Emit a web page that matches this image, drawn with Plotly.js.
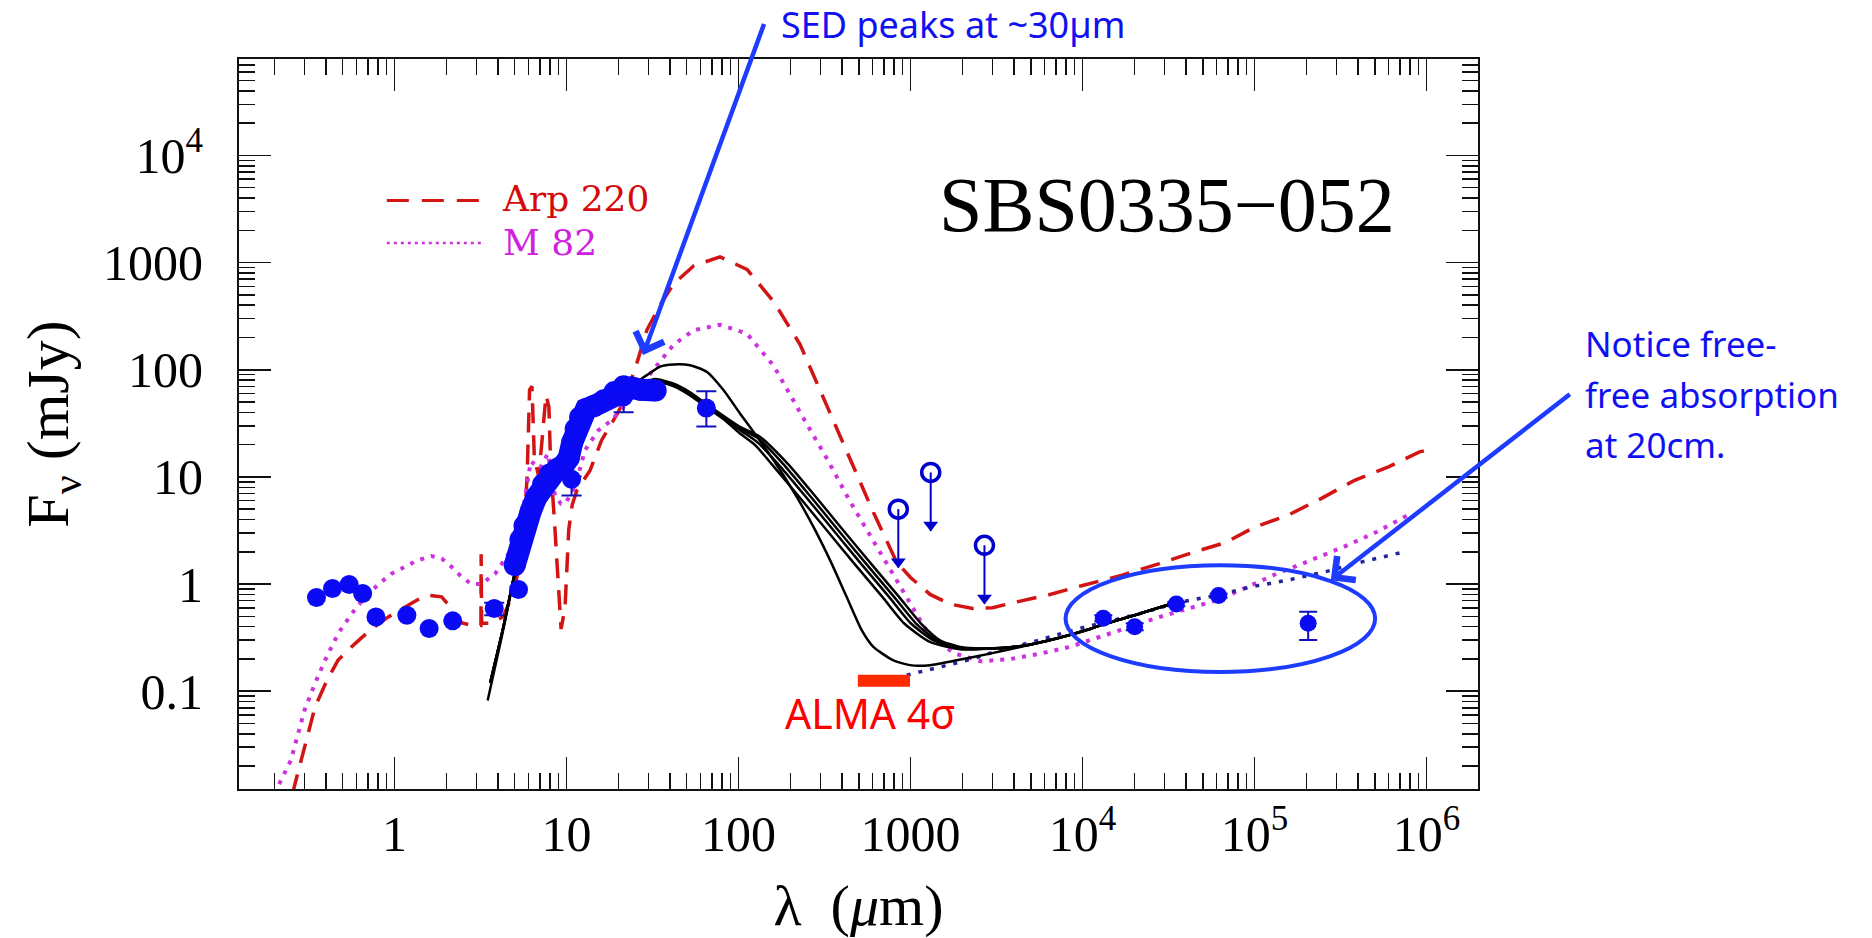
<!DOCTYPE html>
<html>
<head>
<meta charset="utf-8">
<script src="https://cdn.plot.ly/plotly-3.0.1.min.js"></script>
<style>
  html, body { margin: 0; padding: 0; background: #ffffff; }
  #chart { width: 1872px; height: 938px; }
</style>
</head>
<body>
<div id="chart"></div>
<script>
// ---------------- data (wavelength in micron, flux density in mJy) ----------------
const photLam  = [0.352, 0.436, 0.545, 0.653, 0.78, 1.18, 1.59, 2.18, 5.26];
const photFlux = [0.748, 0.908, 0.989, 0.815, 0.493, 0.512, 0.384, 0.453, 0.889];

const errLam   = [3.8, 10.7, 21.5, 65];
const errFlux  = [0.59, 9.5, 56, 44];
const errPlus  = [0.08, 0.6, 4, 19];
const errMinus = [0.08, 2.8, 16, 14.5];

const irsLam  = [5.0, 5.4, 5.7, 6.2, 6.7, 7.3, 8.0, 8.8, 9.6, 10.3, 10.8, 11.3, 12.0, 13.0, 14.5, 16.5, 19.0, 21.5, 24.0, 27.0, 30.0, 33.0];
const irsFlux = [1.5, 2.6, 3.5, 4.8, 6.5, 8.5, 10.5, 11.8, 12.8, 15, 21, 28, 36, 43, 46, 52, 62, 70, 68, 65, 65, 64];

const radioLam   = [13200, 20100, 35100, 61800, 205000];
const radioFlux  = [0.48, 0.40, 0.65, 0.78, 0.43];
const radioPlus  = [0.03, 0.03, 0.03, 0.03, 0.12];
const radioMinus = [0.03, 0.03, 0.03, 0.03, 0.13];

const limLam  = [849, 1310, 2690];
const limFlux = [5.0, 11.0, 2.3];
const limDrop = 3.5;   // length of the upper-limit arrows, as a flux factor

const almaLam  = [494, 993];
const almaFlux = [0.125, 0.125];

const arpLam  = [0.255, 0.30, 0.345, 0.405, 0.47, 0.59, 0.74, 0.92, 1.15, 1.37, 1.57, 1.88, 2.15, 2.35, 2.8, 3.18, 3.19, 3.21, 3.7, 4.3, 5.0, 5.6, 5.9, 6.1, 6.3, 6.5, 6.9, 7.3, 7.6, 7.9, 8.1, 8.5, 8.9, 9.3, 9.8, 10.3, 10.8, 11.5, 13.7, 16.0, 19.6, 22.0, 25.6, 29.3, 35, 42, 55, 78, 112, 160, 228, 325, 445, 608, 830, 1000, 1300, 1700, 2300, 3000, 3800, 6300, 10000, 17000, 28000, 45000, 68000, 100000, 157000, 245000, 382000, 600000, 910000, 1000000];
const arpFlux = [0.011, 0.030, 0.071, 0.126, 0.195, 0.278, 0.384, 0.493, 0.611, 0.716, 0.786, 0.759, 0.59, 0.443, 0.412, 0.41, 1.9, 0.43, 0.43, 0.5, 0.9, 2.5, 10, 65, 70, 15, 10, 30, 58, 45, 12, 4, 1.2, 0.38, 0.6, 3.2, 5.5, 7.5, 11.5, 22, 38, 55, 114, 234, 401, 635, 933, 1130, 864, 433, 172, 46.7, 14.8, 4.67, 1.6, 1.15, 0.8, 0.65, 0.59, 0.6, 0.66, 0.79, 0.97, 1.21, 1.55, 2.0, 2.44, 3.4, 4.4, 6.3, 9.3, 12.4, 17.1, 17.7];

const m82Lam  = [0.20, 0.25, 0.275, 0.30, 0.345, 0.395, 0.47, 0.565, 0.675, 0.81, 0.96, 1.15, 1.37, 1.64, 1.88, 2.15, 2.45, 2.8, 3.2, 3.85, 4.6, 5.0, 5.6, 6.2, 7.0, 7.8, 8.6, 9.3, 9.8, 11.2, 12.8, 15.3, 18.3, 23.9, 33, 42, 55, 78, 112, 160, 228, 325, 445, 608, 795, 1040, 1300, 1820, 2575, 3830, 5690, 8450, 12560, 18670, 27700, 41200, 61200, 91000, 135000, 201000, 330000, 514000, 820000];
const m82Flux = [0.011, 0.0227, 0.040, 0.0665, 0.118, 0.195, 0.345, 0.53, 0.76, 1.0, 1.25, 1.44, 1.67, 1.82, 1.73, 1.44, 1.17, 1.0, 1.0, 1.25, 1.92, 2.56, 5, 14, 12, 16.5, 6.5, 5.6, 5.6, 8.0, 17.7, 27.2, 33.7, 55.6, 107, 172, 234, 263, 217, 109, 40, 15, 5.9, 2.52, 1.26, 0.59, 0.32, 0.224, 0.19, 0.20, 0.224, 0.259, 0.32, 0.40, 0.49, 0.59, 0.71, 0.94, 1.25, 1.61, 2.22, 3.07, 4.6];

const ffLam  = [950, 1360, 2300, 3000, 5000, 9300, 21600, 35500, 61800, 95500, 156700, 257000, 422000, 745000];
const ffFlux = [0.141, 0.163, 0.20, 0.23, 0.285, 0.38, 0.53, 0.67, 0.79, 0.94, 1.09, 1.30, 1.61, 2.0];

const modelLam1  = [3.48, 4.2, 5.0, 6.0, 7.5, 9.0, 10.5, 12, 15, 20, 25, 29.3, 35, 41.9, 52.3, 65.3, 81.7, 102, 128, 160, 218, 279, 348, 425, 520, 608, 794, 993, 1298, 1854, 2895, 4520, 7060, 11040, 13200, 21600, 35500];
const modelFlux1 = [0.082, 0.32, 1.2, 3.6, 8.5, 11, 14, 30, 44, 62, 75, 89, 107, 112, 110, 95.7, 64.6, 39.1, 23.7, 14.3, 6.52, 3.18, 1.55, 0.759, 0.371, 0.259, 0.194, 0.175, 0.175, 0.194, 0.224, 0.262, 0.31, 0.38, 0.42, 0.53, 0.68];
const modelLam2  = [3.6, 4.3, 5.0, 6.0, 7.5, 9.0, 10.5, 12, 15, 20, 25, 30, 33, 42, 52, 65, 82, 102, 133, 193, 281, 406, 589, 857, 1151, 1483, 1937, 2895, 4520, 7060, 11040, 13200, 21600, 35500];
const modelFlux2 = [0.12, 0.4, 1.25, 3.6, 8.5, 11, 14, 30, 44, 62, 72, 79, 82, 74, 62, 48, 37, 29.3, 23.7, 13.3, 6.52, 3.18, 1.55, 0.759, 0.428, 0.299, 0.259, 0.25, 0.265, 0.31, 0.38, 0.42, 0.53, 0.68];
const modelLam3  = [3.6, 4.3, 5.0, 6.0, 7.5, 9.0, 10.5, 12, 15, 20, 25, 30, 33, 42, 52, 65, 82, 102, 131, 181, 263, 380, 551, 802, 1077, 1418, 1937, 2895, 4520, 7060, 11040, 13200, 21600, 35500];
const modelFlux3 = [0.12, 0.4, 1.25, 3.6, 8.5, 11, 14, 30, 44, 62, 72, 78, 80, 72, 60, 46.8, 36, 28.3, 22.8, 13.3, 6.52, 3.18, 1.55, 0.759, 0.428, 0.299, 0.255, 0.25, 0.265, 0.31, 0.38, 0.42, 0.53, 0.68];
const modelLam4  = [3.6, 4.3, 5.0, 6.0, 7.5, 9.0, 10.5, 12, 15, 20, 25, 30, 33, 42, 52, 65, 82, 102, 128, 169, 246, 356, 515, 750, 1007, 1356, 1937, 2895, 4520, 7060, 11040, 13200, 21600, 35500];
const modelFlux4 = [0.12, 0.4, 1.25, 3.6, 8.5, 11, 14, 30, 44, 62, 71, 77, 79, 71, 59, 46, 35.5, 27.3, 21.2, 13.3, 6.52, 3.18, 1.55, 0.759, 0.428, 0.299, 0.25, 0.25, 0.265, 0.31, 0.38, 0.42, 0.53, 0.68];
const modelLam5  = [3.6, 4.3, 5.0, 6.0, 7.5, 9.0, 10.5, 12, 15, 20, 25, 30, 33, 42, 52, 65, 82, 102, 125, 155, 225, 326, 471, 686, 920, 1298, 1937, 2895, 4520, 7060, 11040, 13200, 21600, 35500];
const modelFlux5 = [0.12, 0.4, 1.25, 3.6, 8.5, 11, 14, 30, 44, 62, 70, 76, 78, 70, 58, 45, 34.5, 25.4, 19.8, 13.3, 6.52, 3.18, 1.55, 0.759, 0.428, 0.288, 0.246, 0.25, 0.265, 0.31, 0.38, 0.42, 0.53, 0.68];

const xTickVals = [1, 10, 100, 1000, 10000, 100000, 1000000];
const xTickText = ['1', '10', '100', '1000', '10<sup>4</sup>', '10<sup>5</sup>', '10<sup>6</sup>'];
const yTickVals = [0.1, 1, 10, 100, 1000, 10000];
const yTickText = ['0.1', '1', '10', '100', '1000', '10<sup>4</sup>'];

// ---------------- styling ----------------
const BLUE = '#0a0af5';
const SERIF = 'Liberation Serif, Times New Roman, serif';
const SANS = 'Noto Sans, Open Sans, sans-serif';

function minorTicks(kFrom, kTo) {
  const v = [];
  for (let k = kFrom; k <= kTo; k++) for (let m = 2; m <= 9; m++) v.push(m * Math.pow(10, k));
  return v;
}

const modelLams = [modelLam1, modelLam2, modelLam3, modelLam4, modelLam5];
const modelFluxes = [modelFlux1, modelFlux2, modelFlux3, modelFlux4, modelFlux5];

// upper-limit arrow shafts (from the circle down by limDrop) and heads
const limShaftX = [], limShaftY = [], limHeadY = [];
limLam.forEach((l, i) => {
  limShaftX.push(l, l, null);
  limShaftY.push(limFlux[i], limFlux[i] / limDrop, null);
  limHeadY.push(limFlux[i] / limDrop * 1.13);
});

const traces = [];
traces.push({ x: arpLam, y: arpFlux, mode: 'lines', name: 'Arp 220',
  line: { color: '#d21414', width: 3.5, dash: '20px,12px' }, hoverinfo: 'skip' });
traces.push({ x: m82Lam, y: m82Flux, mode: 'lines', name: 'M 82',
  line: { color: '#cc33dd', width: 4, dash: '4px,7px' }, hoverinfo: 'skip' });
traces.push({ x: ffLam, y: ffFlux, mode: 'lines', name: 'free-free',
  line: { color: '#23239a', width: 3.5, dash: '4px,8px' }, hoverinfo: 'skip' });
modelLams.forEach((lx, i) => traces.push({ x: lx, y: modelFluxes[i], mode: 'lines',
  name: 'model ' + (i + 1), line: { color: '#000000', width: 2.5, shape: 'spline', smoothing: 0.6 }, hoverinfo: 'skip' }));
traces.push({ x: almaLam, y: almaFlux, mode: 'lines', name: 'ALMA',
  line: { color: '#ff2a00', width: 12 }, hoverinfo: 'skip' });
traces.push({ x: irsLam, y: irsFlux, mode: 'lines+markers', name: 'IRS',
  line: { color: BLUE, width: 22 }, marker: { color: BLUE, size: 22 } });
traces.push({ x: photLam, y: photFlux, mode: 'markers', name: 'phot',
  marker: { color: BLUE, size: 19 } });
traces.push({ x: errLam, y: errFlux, mode: 'markers', name: 'phot err',
  marker: { color: BLUE, size: 19 },
  error_y: { type: 'data', symmetric: false, array: errPlus, arrayminus: errMinus, color: '#1010c0', thickness: 2, width: 10 } });
traces.push({ x: radioLam, y: radioFlux, mode: 'markers', name: 'radio',
  marker: { color: BLUE, size: 17, symbol: 'circle' },
  error_y: { type: 'data', symmetric: false, array: radioPlus, arrayminus: radioMinus, color: '#1010c0', thickness: 2, width: 9 } });
traces.push({ x: limShaftX, y: limShaftY, mode: 'lines', name: 'limit arrows',
  line: { color: '#0000cc', width: 2 }, hoverinfo: 'skip' });
traces.push({ x: limLam, y: limHeadY, mode: 'markers', name: 'limit heads',
  marker: { color: '#0000cc', size: 13, symbol: 'triangle-down' }, hoverinfo: 'skip' });
traces.push({ x: limLam, y: limFlux, mode: 'markers', name: 'upper limits',
  marker: { color: '#0000cc', size: 18, symbol: 'circle-open', line: { width: 3.5, color: '#0000cc' } } });

// plot frame (pixels): left 239, right 1478, top 59, bottom 789
const span35 = s => '<span style="font-size:35px">' + s + '</span>';
const annotations = [
  { xref: 'paper', yref: 'paper', x: 0.749, y: 0.80, xanchor: 'center', yanchor: 'middle', showarrow: false,
    text: 'SBS0335\u2212052', font: { family: SERIF, size: 78, color: '#000000' } },
  { xref: 'paper', yref: 'paper', x: 0.2109, y: 0.7790, xanchor: 'left', yanchor: 'middle', showarrow: false,
    align: 'left',
    text: '<span style="color:#d40a0a;font-size:36px">Arp 220</span><br><span style="color:#d020e0;font-size:36px">M 82</span>',
    font: { family: 'DejaVu Serif, serif', size: 34, color: '#d40a0a' } },
  { xref: 'paper', yref: 'paper', x: 0.3261, y: 0.5944, ax: 764 - 643, ay: 24 - 355,
    xanchor: 'left', yanchor: 'middle', borderpad: 16, showarrow: true,
    arrowhead: 4, arrowsize: 1.3, arrowwidth: 4.5, arrowcolor: '#1e3cff',
    text: 'SED peaks at ~30\u00b5m', font: { family: SANS, size: 36, color: '#1010f0' } },
  { xref: 'paper', yref: 'paper', x: 0.8812, y: 0.2860, ax: 1570 - 1331, ay: 394 - 580,
    xanchor: 'left', yanchor: 'middle', align: 'left', borderpad: 14, showarrow: true,
    arrowhead: 4, arrowsize: 1.3, arrowwidth: 4.5, arrowcolor: '#1e3cff',
    text: span35('Notice free-') + '<br>' + span35('free absorption') + '<br>' + span35('at 20cm.'),
    font: { family: SANS, size: 39, color: '#1010f0' } },
  { xref: 'paper', yref: 'paper', x: 0.5090, y: 0.1037, xanchor: 'center', yanchor: 'middle', showarrow: false,
    text: 'ALMA 4\u03c3', font: { family: SANS, size: 41, color: '#ff0000' } }
];

const shapes = [
  { type: 'circle', xref: 'paper', yref: 'paper', x0: 0.6671, x1: 0.9170, y0: 0.1603, y1: 0.3066,
    line: { color: '#1e3cff', width: 4 } },
  { type: 'line', xref: 'paper', yref: 'paper', x0: 0.1193, x1: 0.1946, y0: 0.8060, y1: 0.8060,
    line: { color: '#d21414', width: 3, dash: '22px,13px' } },
  { type: 'line', xref: 'paper', yref: 'paper', x0: 0.1193, x1: 0.1973, y0: 0.7480, y1: 0.7480,
    line: { color: '#cc33dd', width: 2.5, dash: '3px,4px' } }
];

const axisCommon = {
  type: 'log', showline: true, linecolor: '#111111', linewidth: 2, mirror: 'allticks',
  ticks: 'inside', ticklen: 32, tickwidth: 1.8, tickcolor: '#111111',
  showgrid: false, zeroline: false, tickmode: 'array', automargin: false,
  tickfont: { family: SERIF, size: 50, color: '#000000' }
};

const layout = {
  width: 1872, height: 938,
  margin: { l: 239, r: 394, t: 59, b: 149 },
  paper_bgcolor: '#ffffff', plot_bgcolor: '#ffffff',
  showlegend: false,
  xaxis: Object.assign({}, axisCommon, {
    range: [-0.904, 6.299], tickvals: xTickVals, ticktext: xTickText, ticklabelstandoff: 0,
    minor: { ticks: 'inside', ticklen: 16, tickwidth: 1.5, tickcolor: '#111111', tickmode: 'array',
             tickvals: minorTicks(-1, 6), showgrid: false },
    title: { text: '\u03bb  (<i>\u03bc</i>m)', font: { family: SERIF, size: 58, color: '#000000' }, standoff: 26 }
  }),
  yaxis: Object.assign({}, axisCommon, {
    range: [-1.913, 4.900], tickvals: yTickVals, ticktext: yTickText, ticklabelstandoff: 24,
    minor: { ticks: 'inside', ticklen: 16, tickwidth: 1.5, tickcolor: '#111111', tickmode: 'array',
             tickvals: minorTicks(-2, 4), showgrid: false },
    title: { text: 'F<sub>\u03bd</sub> (mJy)', font: { family: SERIF, size: 60, color: '#000000' }, standoff: 15 }
  }),
  annotations: annotations,
  shapes: shapes
};

Plotly.newPlot('chart', traces, layout, { staticPlot: true, displayModeBar: false });
</script>
</body>
</html>
